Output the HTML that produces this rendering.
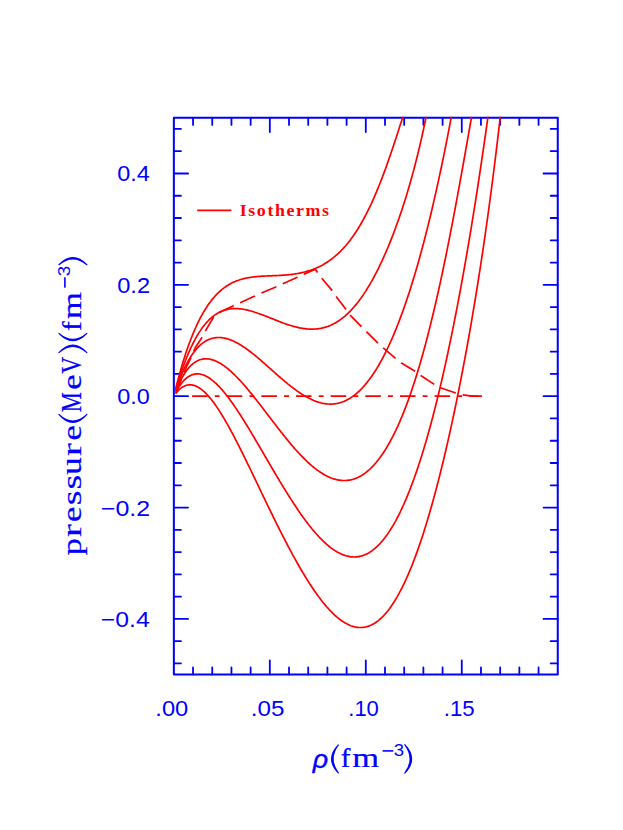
<!DOCTYPE html>
<html><head><meta charset="utf-8"><title>Isotherms</title>
<style>
html,body{margin:0;padding:0;background:#fff;}
body{width:623px;height:830px;position:relative;overflow:hidden;font-family:"Liberation Sans",sans-serif;}
</style></head><body>
<svg width="623" height="830" viewBox="0 0 623 830" style="position:absolute;left:0;top:0">
<defs><clipPath id="cp"><rect x="172.85" y="116.80" width="385.90" height="558.80"/></clipPath></defs>
<g stroke="#0000ff" fill="none">
<rect x="173.85" y="117.8" width="383.90" height="556.80" stroke-width="2" stroke-linejoin="round"/>
<path d="M193.04,117.8 v7.1 M193.04,674.6 v-7.1 M212.24,117.8 v7.1 M212.24,674.6 v-7.1 M231.44,117.8 v7.1 M231.44,674.6 v-7.1 M250.63,117.8 v7.1 M250.63,674.6 v-7.1 M269.82,117.8 v14.2 M269.82,674.6 v-14.2 M289.02,117.8 v7.1 M289.02,674.6 v-7.1 M308.21,117.8 v7.1 M308.21,674.6 v-7.1 M327.41,117.8 v7.1 M327.41,674.6 v-7.1 M346.61,117.8 v7.1 M346.61,674.6 v-7.1 M365.80,117.8 v14.2 M365.80,674.6 v-14.2 M385.00,117.8 v7.1 M385.00,674.6 v-7.1 M404.19,117.8 v7.1 M404.19,674.6 v-7.1 M423.38,117.8 v7.1 M423.38,674.6 v-7.1 M442.58,117.8 v7.1 M442.58,674.6 v-7.1 M461.77,117.8 v14.2 M461.77,674.6 v-14.2 M480.97,117.8 v7.1 M480.97,674.6 v-7.1 M500.16,117.8 v7.1 M500.16,674.6 v-7.1 M519.36,117.8 v7.1 M519.36,674.6 v-7.1 M538.55,117.8 v7.1 M538.55,674.6 v-7.1 M173.85,663.46 h7.1 M557.75,663.46 h-7.1 M173.85,641.19 h7.1 M557.75,641.19 h-7.1 M173.85,618.92 h14.2 M557.75,618.92 h-14.2 M173.85,596.65 h7.1 M557.75,596.65 h-7.1 M173.85,574.38 h7.1 M557.75,574.38 h-7.1 M173.85,552.10 h7.1 M557.75,552.10 h-7.1 M173.85,529.83 h7.1 M557.75,529.83 h-7.1 M173.85,507.56 h14.2 M557.75,507.56 h-14.2 M173.85,485.29 h7.1 M557.75,485.29 h-7.1 M173.85,463.02 h7.1 M557.75,463.02 h-7.1 M173.85,440.74 h7.1 M557.75,440.74 h-7.1 M173.85,418.47 h7.1 M557.75,418.47 h-7.1 M173.85,396.20 h14.2 M557.75,396.20 h-14.2 M173.85,373.93 h7.1 M557.75,373.93 h-7.1 M173.85,351.66 h7.1 M557.75,351.66 h-7.1 M173.85,329.38 h7.1 M557.75,329.38 h-7.1 M173.85,307.11 h7.1 M557.75,307.11 h-7.1 M173.85,284.84 h14.2 M557.75,284.84 h-14.2 M173.85,262.57 h7.1 M557.75,262.57 h-7.1 M173.85,240.30 h7.1 M557.75,240.30 h-7.1 M173.85,218.02 h7.1 M557.75,218.02 h-7.1 M173.85,195.75 h7.1 M557.75,195.75 h-7.1 M173.85,173.48 h14.2 M557.75,173.48 h-14.2 M173.85,151.21 h7.1 M557.75,151.21 h-7.1 M173.85,128.94 h7.1 M557.75,128.94 h-7.1" stroke-width="1.8" stroke-linecap="round"/>
</g>
<g clip-path="url(#cp)" fill="none" stroke="#ff0000" stroke-width="1.7" stroke-linejoin="round">
<path d="M175.7,388.6 L176.7,384.6 L177.7,380.8 L178.7,377.1 L179.7,373.4 L180.7,369.9 L181.7,366.4 L182.7,363.1 L183.7,359.8 L184.7,356.7 L185.7,353.6 L186.7,350.6 L187.7,347.7 L188.7,344.9 L189.7,342.2 L190.7,339.5 L191.7,337.0 L192.7,334.5 L193.7,332.1 L194.7,329.8 L195.7,327.5 L196.7,325.3 L197.7,323.2 L198.7,321.1 L199.7,319.2 L200.7,317.2 L201.7,315.4 L202.7,313.6 L203.7,311.9 L204.7,310.2 L205.7,308.6 L206.7,307.0 L207.7,305.5 L208.7,304.1 L209.7,302.7 L210.7,301.4 L211.7,300.1 L212.7,298.9 L213.7,297.7 L214.7,296.5 L215.7,295.4 L216.7,294.4 L217.7,293.4 L218.7,292.4 L219.7,291.5 L220.7,290.6 L221.7,289.7 L222.7,288.9 L223.7,288.1 L224.7,287.4 L225.7,286.7 L226.7,286.0 L227.7,285.4 L228.7,284.8 L229.7,284.2 L230.7,283.6 L231.7,283.1 L232.7,282.6 L233.7,282.1 L234.7,281.7 L235.7,281.3 L236.7,280.9 L237.7,280.5 L238.7,280.2 L239.7,279.8 L240.7,279.5 L241.7,279.2 L242.7,278.9 L243.7,278.7 L244.7,278.4 L245.7,278.2 L246.7,278.0 L247.7,277.8 L248.7,277.6 L249.7,277.5 L250.7,277.3 L251.7,277.2 L252.7,277.0 L253.7,276.9 L254.7,276.8 L255.7,276.7 L256.7,276.6 L257.7,276.5 L258.7,276.4 L259.7,276.4 L260.7,276.3 L261.7,276.2 L262.7,276.2 L263.7,276.1 L264.7,276.1 L265.7,276.0 L266.7,276.0 L267.7,275.9 L268.7,275.9 L269.7,275.8 L270.7,275.8 L271.7,275.8 L272.7,275.7 L273.7,275.7 L274.7,275.6 L275.7,275.6 L276.7,275.6 L277.7,275.5 L278.7,275.5 L279.7,275.4 L280.7,275.4 L281.7,275.3 L282.7,275.2 L283.7,275.2 L284.7,275.1 L285.7,275.0 L286.7,274.9 L287.7,274.8 L288.7,274.7 L289.7,274.6 L290.7,274.5 L291.7,274.4 L292.7,274.3 L293.7,274.1 L294.7,274.0 L295.7,273.8 L296.7,273.7 L297.7,273.5 L298.7,273.3 L299.7,273.1 L300.7,272.9 L301.7,272.7 L302.7,272.5 L303.7,272.2 L304.7,272.0 L305.7,271.7 L306.7,271.4 L307.7,271.1 L308.7,270.8 L309.7,270.5 L310.7,270.2 L311.7,269.8 L312.7,269.5 L313.7,269.1 L314.7,268.7 L315.7,268.3 L316.7,267.8 L317.7,267.4 L318.7,266.9 L319.7,266.4 L320.7,265.9 L321.7,265.4 L322.7,264.9 L323.7,264.3 L324.7,263.7 L325.7,263.1 L326.7,262.5 L327.7,261.8 L328.7,261.1 L329.7,260.4 L330.7,259.7 L331.7,259.0 L332.7,258.2 L333.7,257.4 L334.7,256.6 L335.7,255.7 L336.7,254.9 L337.7,254.0 L338.7,253.0 L339.7,252.1 L340.7,251.1 L341.7,250.0 L342.7,249.0 L343.7,247.9 L344.7,246.8 L345.7,245.7 L346.7,244.5 L347.7,243.3 L348.7,242.0 L349.7,240.7 L350.7,239.4 L351.7,238.1 L352.7,236.7 L353.7,235.2 L354.7,233.8 L355.7,232.3 L356.7,230.7 L357.7,229.2 L358.7,227.5 L359.7,225.9 L360.7,224.2 L361.7,222.5 L362.7,220.7 L363.7,218.9 L364.7,217.0 L365.7,215.1 L366.7,213.2 L367.7,211.2 L368.7,209.1 L369.7,207.1 L370.7,205.0 L371.7,202.8 L372.7,200.6 L373.7,198.4 L374.7,196.1 L375.7,193.7 L376.7,191.4 L377.7,188.9 L378.7,186.5 L379.7,184.0 L380.7,181.5 L381.7,178.9 L382.7,176.3 L383.7,173.6 L384.7,170.9 L385.7,168.2 L386.7,165.4 L387.7,162.6 L388.7,159.7 L389.7,156.9 L390.7,154.0 L391.7,151.0 L392.7,148.0 L393.7,145.0 L394.7,142.0 L395.7,139.0 L396.7,135.9 L397.7,132.8 L398.7,129.7 L399.7,126.6 L400.7,123.5 L401.7,120.4 L402.7,117.2 L403.7,114.1 L404.7,110.9 L405.7,107.8 L406.7,104.7"/>
<path d="M175.7,389.7 L176.7,386.4 L177.7,383.1 L178.7,379.9 L179.7,376.8 L180.7,373.8 L181.7,370.8 L182.7,368.0 L183.7,365.2 L184.7,362.5 L185.7,359.9 L186.7,357.4 L187.7,355.0 L188.7,352.6 L189.7,350.4 L190.7,348.1 L191.7,346.0 L192.7,344.0 L193.7,342.0 L194.7,340.1 L195.7,338.2 L196.7,336.5 L197.7,334.8 L198.7,333.1 L199.7,331.6 L200.7,330.1 L201.7,328.6 L202.7,327.3 L203.7,325.9 L204.7,324.7 L205.7,323.5 L206.7,322.3 L207.7,321.3 L208.7,320.2 L209.7,319.2 L210.7,318.3 L211.7,317.4 L212.7,316.6 L213.7,315.8 L214.7,315.1 L215.7,314.4 L216.7,313.8 L217.7,313.2 L218.7,312.6 L219.7,312.1 L220.7,311.6 L221.7,311.2 L222.7,310.8 L223.7,310.4 L224.7,310.1 L225.7,309.8 L226.7,309.6 L227.7,309.3 L228.7,309.1 L229.7,309.0 L230.7,308.8 L231.7,308.7 L232.7,308.7 L233.7,308.6 L234.7,308.6 L235.7,308.6 L236.7,308.6 L237.7,308.6 L238.7,308.7 L239.7,308.8 L240.7,308.9 L241.7,309.0 L242.7,309.2 L243.7,309.4 L244.7,309.5 L245.7,309.7 L246.7,309.9 L247.7,310.2 L248.7,310.4 L249.7,310.7 L250.7,311.0 L251.7,311.2 L252.7,311.5 L253.7,311.8 L254.7,312.2 L255.7,312.5 L256.7,312.8 L257.7,313.2 L258.7,313.5 L259.7,313.9 L260.7,314.2 L261.7,314.6 L262.7,315.0 L263.7,315.4 L264.7,315.8 L265.7,316.1 L266.7,316.5 L267.7,316.9 L268.7,317.3 L269.7,317.7 L270.7,318.1 L271.7,318.5 L272.7,318.9 L273.7,319.3 L274.7,319.7 L275.7,320.1 L276.7,320.5 L277.7,320.9 L278.7,321.3 L279.7,321.7 L280.7,322.1 L281.7,322.4 L282.7,322.8 L283.7,323.2 L284.7,323.5 L285.7,323.9 L286.7,324.2 L287.7,324.6 L288.7,324.9 L289.7,325.2 L290.7,325.5 L291.7,325.8 L292.7,326.1 L293.7,326.4 L294.7,326.7 L295.7,326.9 L296.7,327.2 L297.7,327.4 L298.7,327.6 L299.7,327.9 L300.7,328.1 L301.7,328.2 L302.7,328.4 L303.7,328.6 L304.7,328.7 L305.7,328.8 L306.7,328.9 L307.7,329.0 L308.7,329.1 L309.7,329.1 L310.7,329.1 L311.7,329.2 L312.7,329.2 L313.7,329.1 L314.7,329.1 L315.7,329.0 L316.7,328.9 L317.7,328.8 L318.7,328.7 L319.7,328.5 L320.7,328.4 L321.7,328.2 L322.7,327.9 L323.7,327.7 L324.7,327.4 L325.7,327.1 L326.7,326.8 L327.7,326.5 L328.7,326.1 L329.7,325.7 L330.7,325.3 L331.7,324.8 L332.7,324.3 L333.7,323.8 L334.7,323.3 L335.7,322.7 L336.7,322.1 L337.7,321.5 L338.7,320.8 L339.7,320.1 L340.7,319.4 L341.7,318.7 L342.7,317.9 L343.7,317.1 L344.7,316.3 L345.7,315.4 L346.7,314.5 L347.7,313.6 L348.7,312.6 L349.7,311.6 L350.7,310.6 L351.7,309.5 L352.7,308.4 L353.7,307.3 L354.7,306.1 L355.7,304.9 L356.7,303.7 L357.7,302.5 L358.7,301.2 L359.7,299.8 L360.7,298.5 L361.7,297.1 L362.7,295.6 L363.7,294.1 L364.7,292.6 L365.7,291.1 L366.7,289.5 L367.7,287.9 L368.7,286.3 L369.7,284.6 L370.7,282.9 L371.7,281.1 L372.7,279.3 L373.7,277.5 L374.7,275.6 L375.7,273.7 L376.7,271.8 L377.7,269.8 L378.7,267.8 L379.7,265.7 L380.7,263.7 L381.7,261.5 L382.7,259.4 L383.7,257.2 L384.7,254.9 L385.7,252.6 L386.7,250.3 L387.7,248.0 L388.7,245.6 L389.7,243.1 L390.7,240.6 L391.7,238.1 L392.7,235.5 L393.7,232.9 L394.7,230.3 L395.7,227.6 L396.7,224.8 L397.7,222.0 L398.7,219.2 L399.7,216.3 L400.7,213.4 L401.7,210.4 L402.7,207.3 L403.7,204.3 L404.7,201.1 L405.7,197.9 L406.7,194.7 L407.7,191.3 L408.7,188.0 L409.7,184.5 L410.7,181.0 L411.7,177.4 L412.7,173.8 L413.7,170.1 L414.7,166.3 L415.7,162.4 L416.7,158.5 L417.7,154.5 L418.7,150.4 L419.7,146.2 L420.7,141.9 L421.7,137.5 L422.7,133.0 L423.7,128.4 L424.7,123.7 L425.7,118.9 L426.7,114.0 L427.7,108.9 L428.7,103.8 L429.7,98.5 L430.7,93.0"/>
<path d="M175.7,390.4 L176.7,387.5 L177.7,384.6 L178.7,381.9 L179.7,379.3 L180.7,376.8 L181.7,374.4 L182.7,372.1 L183.7,369.8 L184.7,367.7 L185.7,365.7 L186.7,363.7 L187.7,361.9 L188.7,360.1 L189.7,358.4 L190.7,356.8 L191.7,355.3 L192.7,353.8 L193.7,352.4 L194.7,351.1 L195.7,349.9 L196.7,348.7 L197.7,347.6 L198.7,346.6 L199.7,345.6 L200.7,344.7 L201.7,343.9 L202.7,343.1 L203.7,342.4 L204.7,341.7 L205.7,341.1 L206.7,340.5 L207.7,340.0 L208.7,339.6 L209.7,339.2 L210.7,338.8 L211.7,338.5 L212.7,338.2 L213.7,338.0 L214.7,337.8 L215.7,337.7 L216.7,337.6 L217.7,337.5 L218.7,337.5 L219.7,337.5 L220.7,337.6 L221.7,337.7 L222.7,337.8 L223.7,338.0 L224.7,338.2 L225.7,338.4 L226.7,338.6 L227.7,338.9 L228.7,339.2 L229.7,339.6 L230.7,340.0 L231.7,340.4 L232.7,340.8 L233.7,341.2 L234.7,341.7 L235.7,342.2 L236.7,342.7 L237.7,343.3 L238.7,343.8 L239.7,344.4 L240.7,345.0 L241.7,345.7 L242.7,346.3 L243.7,347.0 L244.7,347.6 L245.7,348.3 L246.7,349.0 L247.7,349.8 L248.7,350.5 L249.7,351.3 L250.7,352.0 L251.7,352.8 L252.7,353.6 L253.7,354.4 L254.7,355.2 L255.7,356.0 L256.7,356.8 L257.7,357.7 L258.7,358.5 L259.7,359.4 L260.7,360.2 L261.7,361.1 L262.7,362.0 L263.7,362.8 L264.7,363.7 L265.7,364.6 L266.7,365.5 L267.7,366.4 L268.7,367.3 L269.7,368.2 L270.7,369.0 L271.7,369.9 L272.7,370.8 L273.7,371.7 L274.7,372.6 L275.7,373.5 L276.7,374.4 L277.7,375.3 L278.7,376.1 L279.7,377.0 L280.7,377.9 L281.7,378.7 L282.7,379.6 L283.7,380.4 L284.7,381.3 L285.7,382.1 L286.7,382.9 L287.7,383.8 L288.7,384.6 L289.7,385.4 L290.7,386.2 L291.7,386.9 L292.7,387.7 L293.7,388.5 L294.7,389.2 L295.7,389.9 L296.7,390.7 L297.7,391.4 L298.7,392.1 L299.7,392.7 L300.7,393.4 L301.7,394.1 L302.7,394.7 L303.7,395.3 L304.7,395.9 L305.7,396.5 L306.7,397.0 L307.7,397.6 L308.7,398.1 L309.7,398.6 L310.7,399.1 L311.7,399.6 L312.7,400.0 L313.7,400.5 L314.7,400.9 L315.7,401.2 L316.7,401.6 L317.7,401.9 L318.7,402.2 L319.7,402.5 L320.7,402.8 L321.7,403.1 L322.7,403.3 L323.7,403.5 L324.7,403.6 L325.7,403.8 L326.7,403.9 L327.7,404.0 L328.7,404.0 L329.7,404.1 L330.7,404.1 L331.7,404.1 L332.7,404.0 L333.7,403.9 L334.7,403.8 L335.7,403.7 L336.7,403.5 L337.7,403.3 L338.7,403.1 L339.7,402.8 L340.7,402.5 L341.7,402.2 L342.7,401.8 L343.7,401.5 L344.7,401.0 L345.7,400.6 L346.7,400.1 L347.7,399.6 L348.7,399.0 L349.7,398.4 L350.7,397.8 L351.7,397.1 L352.7,396.4 L353.7,395.7 L354.7,395.0 L355.7,394.2 L356.7,393.3 L357.7,392.4 L358.7,391.5 L359.7,390.6 L360.7,389.6 L361.7,388.6 L362.7,387.5 L363.7,386.4 L364.7,385.3 L365.7,384.1 L366.7,382.9 L367.7,381.6 L368.7,380.3 L369.7,379.0 L370.7,377.6 L371.7,376.2 L372.7,374.8 L373.7,373.3 L374.7,371.8 L375.7,370.2 L376.7,368.6 L377.7,366.9 L378.7,365.2 L379.7,363.5 L380.7,361.7 L381.7,359.9 L382.7,358.0 L383.7,356.1 L384.7,354.1 L385.7,352.1 L386.7,350.1 L387.7,348.0 L388.7,345.9 L389.7,343.7 L390.7,341.5 L391.7,339.3 L392.7,337.0 L393.7,334.6 L394.7,332.2 L395.7,329.8 L396.7,327.3 L397.7,324.8 L398.7,322.2 L399.7,319.6 L400.7,316.9 L401.7,314.2 L402.7,311.5 L403.7,308.7 L404.7,305.8 L405.7,302.9 L406.7,300.0 L407.7,297.0 L408.7,294.0 L409.7,290.9 L410.7,287.8 L411.7,284.6 L412.7,281.3 L413.7,278.1 L414.7,274.7 L415.7,271.4 L416.7,267.9 L417.7,264.5 L418.7,260.9 L419.7,257.4 L420.7,253.7 L421.7,250.1 L422.7,246.3 L423.7,242.6 L424.7,238.7 L425.7,234.8 L426.7,230.9 L427.7,226.9 L428.7,222.9 L429.7,218.8 L430.7,214.7 L431.7,210.5 L432.7,206.2 L433.7,201.9 L434.7,197.5 L435.7,193.1 L436.7,188.7 L437.7,184.1 L438.7,179.6 L439.7,174.9 L440.7,170.2 L441.7,165.5 L442.7,160.7 L443.7,155.8 L444.7,150.9 L445.7,146.0 L446.7,140.9 L447.7,135.8 L448.7,130.7 L449.7,125.5 L450.7,120.2 L451.7,114.9 L452.7,109.5 L453.7,104.1 L454.7,98.5 L455.7,93.0"/>
<path d="M175.7,391.3 L176.7,388.8 L177.7,386.5 L178.7,384.2 L179.7,382.1 L180.7,380.1 L181.7,378.2 L182.7,376.5 L183.7,374.8 L184.7,373.2 L185.7,371.7 L186.7,370.4 L187.7,369.1 L188.7,367.9 L189.7,366.8 L190.7,365.7 L191.7,364.8 L192.7,363.9 L193.7,363.1 L194.7,362.4 L195.7,361.8 L196.7,361.2 L197.7,360.7 L198.7,360.2 L199.7,359.8 L200.7,359.5 L201.7,359.3 L202.7,359.1 L203.7,358.9 L204.7,358.8 L205.7,358.8 L206.7,358.8 L207.7,358.9 L208.7,359.0 L209.7,359.1 L210.7,359.4 L211.7,359.6 L212.7,359.9 L213.7,360.2 L214.7,360.6 L215.7,361.0 L216.7,361.5 L217.7,362.0 L218.7,362.5 L219.7,363.0 L220.7,363.6 L221.7,364.3 L222.7,364.9 L223.7,365.6 L224.7,366.3 L225.7,367.1 L226.7,367.9 L227.7,368.7 L228.7,369.5 L229.7,370.4 L230.7,371.2 L231.7,372.1 L232.7,373.1 L233.7,374.0 L234.7,375.0 L235.7,376.0 L236.7,377.0 L237.7,378.0 L238.7,379.1 L239.7,380.1 L240.7,381.2 L241.7,382.3 L242.7,383.5 L243.7,384.6 L244.7,385.7 L245.7,386.9 L246.7,388.1 L247.7,389.3 L248.7,390.4 L249.7,391.7 L250.7,392.9 L251.7,394.1 L252.7,395.3 L253.7,396.6 L254.7,397.9 L255.7,399.1 L256.7,400.4 L257.7,401.7 L258.7,403.0 L259.7,404.2 L260.7,405.5 L261.7,406.8 L262.7,408.1 L263.7,409.4 L264.7,410.7 L265.7,412.1 L266.7,413.4 L267.7,414.7 L268.7,416.0 L269.7,417.3 L270.7,418.6 L271.7,419.9 L272.7,421.2 L273.7,422.5 L274.7,423.8 L275.7,425.1 L276.7,426.4 L277.7,427.7 L278.7,429.0 L279.7,430.3 L280.7,431.6 L281.7,432.8 L282.7,434.1 L283.7,435.4 L284.7,436.6 L285.7,437.9 L286.7,439.1 L287.7,440.3 L288.7,441.5 L289.7,442.7 L290.7,443.9 L291.7,445.1 L292.7,446.3 L293.7,447.4 L294.7,448.6 L295.7,449.7 L296.7,450.8 L297.7,451.9 L298.7,453.0 L299.7,454.1 L300.7,455.1 L301.7,456.2 L302.7,457.2 L303.7,458.2 L304.7,459.2 L305.7,460.2 L306.7,461.1 L307.7,462.1 L308.7,463.0 L309.7,463.9 L310.7,464.8 L311.7,465.7 L312.7,466.5 L313.7,467.3 L314.7,468.1 L315.7,468.9 L316.7,469.7 L317.7,470.4 L318.7,471.1 L319.7,471.8 L320.7,472.5 L321.7,473.1 L322.7,473.7 L323.7,474.3 L324.7,474.9 L325.7,475.4 L326.7,476.0 L327.7,476.5 L328.7,476.9 L329.7,477.4 L330.7,477.8 L331.7,478.2 L332.7,478.5 L333.7,478.9 L334.7,479.2 L335.7,479.4 L336.7,479.7 L337.7,479.9 L338.7,480.1 L339.7,480.2 L340.7,480.4 L341.7,480.4 L342.7,480.5 L343.7,480.5 L344.7,480.5 L345.7,480.5 L346.7,480.4 L347.7,480.4 L348.7,480.2 L349.7,480.1 L350.7,479.9 L351.7,479.6 L352.7,479.4 L353.7,479.1 L354.7,478.7 L355.7,478.4 L356.7,477.9 L357.7,477.5 L358.7,477.0 L359.7,476.5 L360.7,476.0 L361.7,475.4 L362.7,474.7 L363.7,474.1 L364.7,473.4 L365.7,472.6 L366.7,471.8 L367.7,471.0 L368.7,470.2 L369.7,469.3 L370.7,468.3 L371.7,467.3 L372.7,466.3 L373.7,465.3 L374.7,464.1 L375.7,463.0 L376.7,461.8 L377.7,460.6 L378.7,459.3 L379.7,458.0 L380.7,456.6 L381.7,455.2 L382.7,453.7 L383.7,452.2 L384.7,450.7 L385.7,449.1 L386.7,447.5 L387.7,445.8 L388.7,444.0 L389.7,442.3 L390.7,440.4 L391.7,438.6 L392.7,436.6 L393.7,434.7 L394.7,432.6 L395.7,430.6 L396.7,428.4 L397.7,426.3 L398.7,424.0 L399.7,421.8 L400.7,419.4 L401.7,417.1 L402.7,414.6 L403.7,412.1 L404.7,409.6 L405.7,407.0 L406.7,404.4 L407.7,401.7 L408.7,398.9 L409.7,396.1 L410.7,393.2 L411.7,390.3 L412.7,387.3 L413.7,384.3 L414.7,381.2 L415.7,378.1 L416.7,374.9 L417.7,371.6 L418.7,368.3 L419.7,364.9 L420.7,361.5 L421.7,358.0 L422.7,354.4 L423.7,350.8 L424.7,347.2 L425.7,343.4 L426.7,339.6 L427.7,335.8 L428.7,331.9 L429.7,327.9 L430.7,323.9 L431.7,319.8 L432.7,315.7 L433.7,311.5 L434.7,307.3 L435.7,303.0 L436.7,298.6 L437.7,294.2 L438.7,289.7 L439.7,285.1 L440.7,280.6 L441.7,275.9 L442.7,271.2 L443.7,266.4 L444.7,261.6 L445.7,256.8 L446.7,251.8 L447.7,246.9 L448.7,241.9 L449.7,236.8 L450.7,231.7 L451.7,226.5 L452.7,221.3 L453.7,216.1 L454.7,210.8 L455.7,205.4 L456.7,200.1 L457.7,194.6 L458.7,189.2 L459.7,183.7 L460.7,178.2 L461.7,172.6 L462.7,167.1 L463.7,161.5 L464.7,155.8 L465.7,150.2 L466.7,144.5 L467.7,138.9 L468.7,133.2 L469.7,127.5 L470.7,121.8 L471.7,116.1 L472.7,110.4 L473.7,104.7 L474.7,99.0 L475.7,93.3"/>
<path d="M175.7,392.5 L176.7,390.6 L177.7,388.9 L178.7,387.3 L179.7,385.8 L180.7,384.4 L181.7,383.0 L182.7,381.8 L183.7,380.7 L184.7,379.7 L185.7,378.7 L186.7,377.9 L187.7,377.1 L188.7,376.5 L189.7,375.9 L190.7,375.4 L191.7,374.9 L192.7,374.6 L193.7,374.3 L194.7,374.1 L195.7,373.9 L196.7,373.9 L197.7,373.9 L198.7,373.9 L199.7,374.0 L200.7,374.2 L201.7,374.5 L202.7,374.8 L203.7,375.1 L204.7,375.5 L205.7,376.0 L206.7,376.5 L207.7,377.1 L208.7,377.7 L209.7,378.3 L210.7,379.0 L211.7,379.8 L212.7,380.6 L213.7,381.4 L214.7,382.3 L215.7,383.2 L216.7,384.1 L217.7,385.1 L218.7,386.2 L219.7,387.2 L220.7,388.3 L221.7,389.4 L222.7,390.6 L223.7,391.8 L224.7,393.0 L225.7,394.2 L226.7,395.5 L227.7,396.8 L228.7,398.1 L229.7,399.4 L230.7,400.8 L231.7,402.2 L232.7,403.6 L233.7,405.0 L234.7,406.5 L235.7,407.9 L236.7,409.4 L237.7,410.9 L238.7,412.5 L239.7,414.0 L240.7,415.5 L241.7,417.1 L242.7,418.7 L243.7,420.3 L244.7,421.9 L245.7,423.5 L246.7,425.1 L247.7,426.8 L248.7,428.4 L249.7,430.1 L250.7,431.7 L251.7,433.4 L252.7,435.1 L253.7,436.8 L254.7,438.5 L255.7,440.2 L256.7,441.9 L257.7,443.6 L258.7,445.3 L259.7,447.0 L260.7,448.7 L261.7,450.4 L262.7,452.1 L263.7,453.8 L264.7,455.6 L265.7,457.3 L266.7,459.0 L267.7,460.7 L268.7,462.4 L269.7,464.2 L270.7,465.9 L271.7,467.6 L272.7,469.3 L273.7,471.0 L274.7,472.7 L275.7,474.4 L276.7,476.1 L277.7,477.7 L278.7,479.4 L279.7,481.1 L280.7,482.7 L281.7,484.4 L282.7,486.0 L283.7,487.7 L284.7,489.3 L285.7,490.9 L286.7,492.5 L287.7,494.1 L288.7,495.7 L289.7,497.3 L290.7,498.9 L291.7,500.4 L292.7,502.0 L293.7,503.5 L294.7,505.0 L295.7,506.5 L296.7,508.0 L297.7,509.5 L298.7,511.0 L299.7,512.4 L300.7,513.9 L301.7,515.3 L302.7,516.7 L303.7,518.1 L304.7,519.4 L305.7,520.8 L306.7,522.1 L307.7,523.4 L308.7,524.7 L309.7,526.0 L310.7,527.2 L311.7,528.5 L312.7,529.7 L313.7,530.9 L314.7,532.0 L315.7,533.2 L316.7,534.3 L317.7,535.4 L318.7,536.5 L319.7,537.6 L320.7,538.6 L321.7,539.6 L322.7,540.6 L323.7,541.6 L324.7,542.5 L325.7,543.4 L326.7,544.3 L327.7,545.2 L328.7,546.0 L329.7,546.8 L330.7,547.6 L331.7,548.4 L332.7,549.1 L333.7,549.8 L334.7,550.4 L335.7,551.1 L336.7,551.7 L337.7,552.2 L338.7,552.8 L339.7,553.3 L340.7,553.8 L341.7,554.2 L342.7,554.6 L343.7,555.0 L344.7,555.4 L345.7,555.7 L346.7,556.0 L347.7,556.2 L348.7,556.4 L349.7,556.6 L350.7,556.8 L351.7,556.9 L352.7,556.9 L353.7,557.0 L354.7,557.0 L355.7,556.9 L356.7,556.9 L357.7,556.7 L358.7,556.6 L359.7,556.4 L360.7,556.2 L361.7,555.9 L362.7,555.6 L363.7,555.2 L364.7,554.8 L365.7,554.4 L366.7,553.9 L367.7,553.4 L368.7,552.9 L369.7,552.3 L370.7,551.6 L371.7,550.9 L372.7,550.2 L373.7,549.4 L374.7,548.6 L375.7,547.7 L376.7,546.8 L377.7,545.9 L378.7,544.9 L379.7,543.9 L380.7,542.8 L381.7,541.6 L382.7,540.5 L383.7,539.2 L384.7,538.0 L385.7,536.6 L386.7,535.3 L387.7,533.9 L388.7,532.4 L389.7,530.9 L390.7,529.3 L391.7,527.7 L392.7,526.1 L393.7,524.3 L394.7,522.6 L395.7,520.8 L396.7,518.9 L397.7,517.0 L398.7,515.1 L399.7,513.1 L400.7,511.0 L401.7,508.9 L402.7,506.7 L403.7,504.5 L404.7,502.2 L405.7,499.9 L406.7,497.6 L407.7,495.1 L408.7,492.7 L409.7,490.1 L410.7,487.6 L411.7,484.9 L412.7,482.2 L413.7,479.5 L414.7,476.7 L415.7,473.9 L416.7,471.0 L417.7,468.0 L418.7,465.0 L419.7,461.9 L420.7,458.8 L421.7,455.7 L422.7,452.4 L423.7,449.2 L424.7,445.8 L425.7,442.4 L426.7,439.0 L427.7,435.5 L428.7,431.9 L429.7,428.3 L430.7,424.7 L431.7,420.9 L432.7,417.2 L433.7,413.3 L434.7,409.4 L435.7,405.5 L436.7,401.5 L437.7,397.4 L438.7,393.3 L439.7,389.1 L440.7,384.9 L441.7,380.6 L442.7,376.3 L443.7,371.9 L444.7,367.4 L445.7,362.9 L446.7,358.3 L447.7,353.7 L448.7,349.0 L449.7,344.2 L450.7,339.4 L451.7,334.6 L452.7,329.7 L453.7,324.7 L454.7,319.6 L455.7,314.5 L456.7,309.4 L457.7,304.2 L458.7,298.9 L459.7,293.5 L460.7,288.1 L461.7,282.7 L462.7,277.2 L463.7,271.6 L464.7,266.0 L465.7,260.3 L466.7,254.5 L467.7,248.7 L468.7,242.8 L469.7,236.9 L470.7,230.8 L471.7,224.8 L472.7,218.6 L473.7,212.4 L474.7,206.2 L475.7,199.8 L476.7,193.5 L477.7,187.0 L478.7,180.5 L479.7,173.9 L480.7,167.2 L481.7,160.5 L482.7,153.7 L483.7,146.9 L484.7,139.9 L485.7,132.9 L486.7,125.9 L487.7,118.7 L488.7,111.5 L489.7,104.3 L490.7,96.9 L491.7,89.5 L492.7,82.0"/>
<path d="M175.7,393.6 L176.7,392.4 L177.7,391.2 L178.7,390.2 L179.7,389.2 L180.7,388.4 L181.7,387.6 L182.7,387.0 L183.7,386.4 L184.7,385.9 L185.7,385.5 L186.7,385.2 L187.7,385.0 L188.7,384.9 L189.7,384.8 L190.7,384.8 L191.7,384.9 L192.7,385.1 L193.7,385.3 L194.7,385.6 L195.7,386.0 L196.7,386.4 L197.7,387.0 L198.7,387.5 L199.7,388.2 L200.7,388.9 L201.7,389.6 L202.7,390.4 L203.7,391.3 L204.7,392.2 L205.7,393.2 L206.7,394.2 L207.7,395.3 L208.7,396.4 L209.7,397.6 L210.7,398.8 L211.7,400.0 L212.7,401.3 L213.7,402.6 L214.7,404.0 L215.7,405.4 L216.7,406.9 L217.7,408.4 L218.7,409.9 L219.7,411.4 L220.7,413.0 L221.7,414.6 L222.7,416.3 L223.7,417.9 L224.7,419.6 L225.7,421.4 L226.7,423.1 L227.7,424.9 L228.7,426.7 L229.7,428.5 L230.7,430.3 L231.7,432.2 L232.7,434.0 L233.7,435.9 L234.7,437.8 L235.7,439.8 L236.7,441.7 L237.7,443.7 L238.7,445.6 L239.7,447.6 L240.7,449.6 L241.7,451.6 L242.7,453.6 L243.7,455.6 L244.7,457.7 L245.7,459.7 L246.7,461.8 L247.7,463.8 L248.7,465.9 L249.7,467.9 L250.7,470.0 L251.7,472.1 L252.7,474.2 L253.7,476.3 L254.7,478.3 L255.7,480.4 L256.7,482.5 L257.7,484.6 L258.7,486.7 L259.7,488.8 L260.7,490.9 L261.7,493.0 L262.7,495.1 L263.7,497.1 L264.7,499.2 L265.7,501.3 L266.7,503.4 L267.7,505.5 L268.7,507.5 L269.7,509.6 L270.7,511.6 L271.7,513.7 L272.7,515.7 L273.7,517.8 L274.7,519.8 L275.7,521.8 L276.7,523.8 L277.7,525.9 L278.7,527.9 L279.7,529.9 L280.7,531.8 L281.7,533.8 L282.7,535.8 L283.7,537.7 L284.7,539.7 L285.7,541.6 L286.7,543.5 L287.7,545.4 L288.7,547.3 L289.7,549.2 L290.7,551.1 L291.7,552.9 L292.7,554.8 L293.7,556.6 L294.7,558.4 L295.7,560.2 L296.7,562.0 L297.7,563.8 L298.7,565.5 L299.7,567.3 L300.7,569.0 L301.7,570.7 L302.7,572.4 L303.7,574.0 L304.7,575.7 L305.7,577.3 L306.7,579.0 L307.7,580.5 L308.7,582.1 L309.7,583.7 L310.7,585.2 L311.7,586.7 L312.7,588.2 L313.7,589.7 L314.7,591.2 L315.7,592.6 L316.7,594.0 L317.7,595.4 L318.7,596.8 L319.7,598.1 L320.7,599.4 L321.7,600.7 L322.7,602.0 L323.7,603.2 L324.7,604.4 L325.7,605.6 L326.7,606.8 L327.7,607.9 L328.7,609.0 L329.7,610.1 L330.7,611.2 L331.7,612.2 L332.7,613.2 L333.7,614.1 L334.7,615.1 L335.7,616.0 L336.7,616.9 L337.7,617.7 L338.7,618.5 L339.7,619.3 L340.7,620.0 L341.7,620.8 L342.7,621.4 L343.7,622.1 L344.7,622.7 L345.7,623.3 L346.7,623.8 L347.7,624.3 L348.7,624.8 L349.7,625.3 L350.7,625.7 L351.7,626.0 L352.7,626.3 L353.7,626.6 L354.7,626.9 L355.7,627.1 L356.7,627.3 L357.7,627.4 L358.7,627.5 L359.7,627.5 L360.7,627.5 L361.7,627.5 L362.7,627.4 L363.7,627.3 L364.7,627.2 L365.7,627.0 L366.7,626.7 L367.7,626.4 L368.7,626.1 L369.7,625.7 L370.7,625.3 L371.7,624.8 L372.7,624.3 L373.7,623.8 L374.7,623.2 L375.7,622.5 L376.7,621.8 L377.7,621.1 L378.7,620.3 L379.7,619.4 L380.7,618.5 L381.7,617.6 L382.7,616.6 L383.7,615.6 L384.7,614.5 L385.7,613.4 L386.7,612.2 L387.7,611.0 L388.7,609.7 L389.7,608.4 L390.7,607.0 L391.7,605.5 L392.7,604.1 L393.7,602.5 L394.7,600.9 L395.7,599.3 L396.7,597.6 L397.7,595.9 L398.7,594.1 L399.7,592.2 L400.7,590.4 L401.7,588.4 L402.7,586.4 L403.7,584.4 L404.7,582.3 L405.7,580.1 L406.7,577.9 L407.7,575.6 L408.7,573.3 L409.7,570.9 L410.7,568.5 L411.7,566.1 L412.7,563.5 L413.7,560.9 L414.7,558.3 L415.7,555.6 L416.7,552.9 L417.7,550.1 L418.7,547.3 L419.7,544.4 L420.7,541.4 L421.7,538.4 L422.7,535.4 L423.7,532.3 L424.7,529.1 L425.7,525.9 L426.7,522.6 L427.7,519.3 L428.7,516.0 L429.7,512.5 L430.7,509.1 L431.7,505.6 L432.7,502.0 L433.7,498.3 L434.7,494.7 L435.7,490.9 L436.7,487.2 L437.7,483.3 L438.7,479.4 L439.7,475.5 L440.7,471.5 L441.7,467.4 L442.7,463.3 L443.7,459.2 L444.7,455.0 L445.7,450.7 L446.7,446.4 L447.7,442.1 L448.7,437.6 L449.7,433.2 L450.7,428.6 L451.7,424.1 L452.7,419.4 L453.7,414.7 L454.7,410.0 L455.7,405.2 L456.7,400.3 L457.7,395.4 L458.7,390.5 L459.7,385.4 L460.7,380.3 L461.7,375.2 L462.7,370.0 L463.7,364.7 L464.7,359.4 L465.7,354.0 L466.7,348.6 L467.7,343.0 L468.7,337.5 L469.7,331.8 L470.7,326.1 L471.7,320.3 L472.7,314.4 L473.7,308.5 L474.7,302.5 L475.7,296.4 L476.7,290.3 L477.7,284.0 L478.7,277.7 L479.7,271.3 L480.7,264.8 L481.7,258.2 L482.7,251.6 L483.7,244.8 L484.7,238.0 L485.7,231.0 L486.7,224.0 L487.7,216.8 L488.7,209.6 L489.7,202.2 L490.7,194.7 L491.7,187.1 L492.7,179.4 L493.7,171.5 L494.7,163.5 L495.7,155.4 L496.7,147.2 L497.7,138.8 L498.7,130.3 L499.7,121.6 L500.7,112.7 L501.7,103.7 L502.7,94.5 L503.7,85.2 L504.7,75.7"/>
<path d="M175.7,393.4 L187.2,365.3 L190.8,358.1 L195.1,348.0 L202.1,337.2 L205.9,330.1 L213.6,317.0 L220.0,312.3 L226.9,308.7 L233.4,305.7 L240.7,302.4 L252.0,297.3 L262.0,292.8 L277.3,286.3 L284.0,283.2 L297.3,277.3 L304.1,274.1 L315.3,269.3 L321.7,278.2 L332.3,290.7 L336.1,296.5 L345.7,309.0 L350.6,315.7 L361.2,326.3 L366.9,332.1 L377.5,342.7 L384.1,348.7 L395.6,358.3 L401.4,363.1 L415.9,371.8 L421.5,376.0 L434.5,384.5 L439.7,387.6 L456.5,393.2 L463.6,394.9 L471.3,396.1 L481.9,396.2" stroke-dasharray="16.3 7.0" stroke-dashoffset="0.72"/>
<path d="M192.1,396.2 H481.9" stroke-dasharray="15.5 7.2 4.8 7.15"/>
<path d="M197.2,210.3 H231.4"/>
</g>
<g fill="#0000ff">
<text transform="matrix(0.2339 0 0 0.2157 117.17 181.44)" font-family="'Liberation Sans'" font-size="100px">0.4</text>
<text transform="matrix(0.2367 0 0 0.2157 117.16 292.80)" font-family="'Liberation Sans'" font-size="100px">0.2</text>
<text transform="matrix(0.2339 0 0 0.2157 117.17 404.16)" font-family="'Liberation Sans'" font-size="100px">0.0</text>
<text transform="matrix(0.2496 0 0 0.2157 100.83 515.52)" font-family="'Liberation Sans'" font-size="100px">−0.2</text>
<text transform="matrix(0.2476 0 0 0.2157 100.84 626.88)" font-family="'Liberation Sans'" font-size="100px">−0.4</text>
<text transform="matrix(0.2370 0 0 0.2157 155.35 715.66)" font-family="'Liberation Sans'" font-size="100px">.00</text>
<text transform="matrix(0.2422 0 0 0.2157 250.81 715.66)" font-family="'Liberation Sans'" font-size="100px">.05</text>
<text transform="matrix(0.2199 0 0 0.2157 348.28 715.66)" font-family="'Liberation Sans'" font-size="100px">.10</text>
<text transform="matrix(0.2218 0 0 0.2157 443.87 715.66)" font-family="'Liberation Sans'" font-size="100px">.15</text>
</g>
<text transform="translate(239.7,215.9) scale(1.12,1.0)" font-family="'Liberation Serif'" font-weight="bold" font-size="16px" letter-spacing="1.43" fill="#ff0000">Isotherms</text>
<g fill="#0000ff">
<text transform="matrix(0.2681 0 0 0.2586 312.74 767.74)" font-family="'Liberation Sans'" font-size="100px" font-style="italic" stroke="#0000ff" stroke-width="1.52" stroke-linejoin="round">ρ</text>
<path d="M338.4,745.0 Q324.8,759.0 338.4,773.0 Q327.8,759.0 338.4,745.0 Z" fill="#0000ff" stroke="#0000ff" stroke-width="1.1" stroke-linejoin="round"/>
<text transform="matrix(0.2926 0 0 0.2755 340.64 767.40)" font-family="'Liberation Serif'" font-size="100px" stroke="#0000ff" stroke-width="0.88" stroke-linejoin="round">f</text>
<text transform="matrix(0.3453 0 0 0.2787 352.26 767.40)" font-family="'Liberation Serif'" font-size="100px" stroke="#0000ff" stroke-width="0.81" stroke-linejoin="round">m</text>
<rect x="382.6" y="750.1" width="10.7" height="1.6"/>
<text transform="matrix(0.1858 0 0 0.1642 393.82 756.24)" font-family="'Liberation Sans'" font-size="100px">3</text>
<path d="M404.8,744.6 Q418.4,758.9 404.8,773.2 Q415.4,758.9 404.8,744.6 Z" fill="#0000ff" stroke="#0000ff" stroke-width="1.1" stroke-linejoin="round"/>
</g>
<g fill="#0000ff" transform="translate(81.3,555.2) rotate(-90)">
<text transform="matrix(0.3399 0 0 0.2830 -0.03 0.11)" font-family="'Liberation Serif'" font-size="100px" stroke="#0000ff" stroke-width="0.81" stroke-linejoin="round">p</text>
<text transform="matrix(0.3872 0 0 0.2808 18.20 -0.00)" font-family="'Liberation Serif'" font-size="100px" stroke="#0000ff" stroke-width="0.76" stroke-linejoin="round">r</text>
<text transform="matrix(0.3456 0 0 0.2820 33.12 -0.14)" font-family="'Liberation Serif'" font-size="100px" stroke="#0000ff" stroke-width="0.80" stroke-linejoin="round">e</text>
<text transform="matrix(0.3810 0 0 0.2820 49.91 -0.14)" font-family="'Liberation Serif'" font-size="100px" stroke="#0000ff" stroke-width="0.76" stroke-linejoin="round">s</text>
<text transform="matrix(0.3810 0 0 0.2820 65.61 -0.14)" font-family="'Liberation Serif'" font-size="100px" stroke="#0000ff" stroke-width="0.76" stroke-linejoin="round">s</text>
<text transform="matrix(0.3489 0 0 0.2870 80.50 -0.15)" font-family="'Liberation Serif'" font-size="100px" stroke="#0000ff" stroke-width="0.79" stroke-linejoin="round">u</text>
<text transform="matrix(0.3872 0 0 0.2808 99.19 -0.00)" font-family="'Liberation Serif'" font-size="100px" stroke="#0000ff" stroke-width="0.76" stroke-linejoin="round">r</text>
<text transform="matrix(0.3456 0 0 0.2820 114.62 -0.14)" font-family="'Liberation Serif'" font-size="100px" stroke="#0000ff" stroke-width="0.80" stroke-linejoin="round">e</text>
<text transform="matrix(0.2269 0 0 0.2941 142.85 0.00)" font-family="'Liberation Serif'" font-size="100px" stroke="#0000ff" stroke-width="0.97" stroke-linejoin="round">M</text>
<text transform="matrix(0.3456 0 0 0.2820 165.52 -0.14)" font-family="'Liberation Serif'" font-size="100px" stroke="#0000ff" stroke-width="0.80" stroke-linejoin="round">e</text>
<text transform="matrix(0.2351 0 0 0.2917 181.50 -0.16)" font-family="'Liberation Serif'" font-size="100px" stroke="#0000ff" stroke-width="0.95" stroke-linejoin="round">V</text>
<text transform="matrix(0.2956 0 0 0.2755 224.14 0.00)" font-family="'Liberation Serif'" font-size="100px" stroke="#0000ff" stroke-width="0.88" stroke-linejoin="round">f</text>
<text transform="matrix(0.3467 0 0 0.2808 236.16 -0.00)" font-family="'Liberation Serif'" font-size="100px" stroke="#0000ff" stroke-width="0.80" stroke-linejoin="round">m</text>
<path d="M140.9,-22.4 Q124.5,-8.4 140.9,5.6 Q127.5,-8.4 140.9,-22.4 Z" fill="#0000ff" stroke="#0000ff" stroke-width="1.1" stroke-linejoin="round"/>
<path d="M202.5,-22.4 Q217.9,-8.4 202.5,5.6 Q214.9,-8.4 202.5,-22.4 Z" fill="#0000ff" stroke="#0000ff" stroke-width="1.1" stroke-linejoin="round"/>
<path d="M221.8,-22.4 Q207.0,-8.4 221.8,5.6 Q210.0,-8.4 221.8,-22.4 Z" fill="#0000ff" stroke="#0000ff" stroke-width="1.1" stroke-linejoin="round"/>
<rect x="267.5" y="-17.2" width="10.4" height="1.6"/>
<text transform="matrix(0.1879 0 0 0.1670 279.01 -11.36)" font-family="'Liberation Sans'" font-size="100px">3</text>
<path d="M290.5,-22.4 Q304.9,-8.4 290.5,5.6 Q301.9,-8.4 290.5,-22.4 Z" fill="#0000ff" stroke="#0000ff" stroke-width="1.1" stroke-linejoin="round"/>
</g>
</svg>
</body></html>
